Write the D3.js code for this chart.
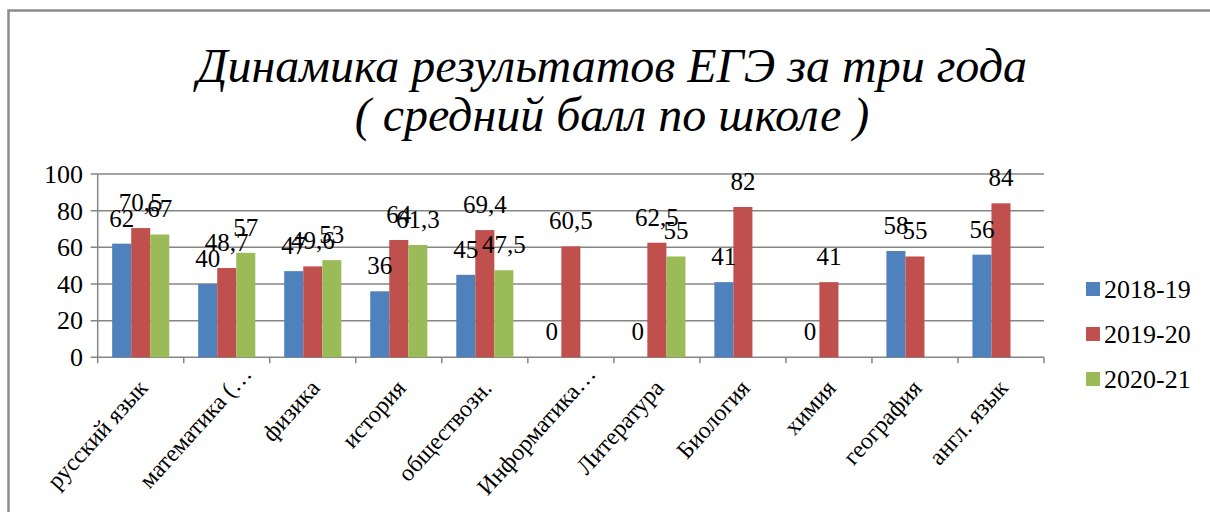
<!DOCTYPE html>
<html><head><meta charset="utf-8">
<script src="https://cdn.jsdelivr.net/npm/d3@7"></script>
<style>html,body{margin:0;padding:0;background:#fff;}svg{display:block;}</style>
</head><body>
<svg id="c" width="1210" height="515"></svg>
<script>
const categories = ["русский язык","математика (…","физика","история","обществозн.","Информатика…","Литература","Биология","химия","география","англ. язык"];
const seriesNames = ["2018-19","2019-20","2020-21"];
const s2018 = [62,40,47,36,45,0,0,41,0,58,56];
const s2019 = [70.5,48.7,49.6,64,69.4,60.5,62.5,82,41,55,84];
const s2020 = [67,57,53,61.3,47.5,null,55,null,null,null,null];
const yTicks = [0,20,40,60,80,100];
const colors = ["#4F81BD","#C0504D","#9BBB59"];
const titleLines = ["Динамика результатов ЕГЭ за три года","( средний балл по школе )"];

const series = [s2018, s2019, s2020];
const svg = d3.select("#c");
const serif = "Liberation Serif";

// outer border
svg.append("path").attr("d","M8.5,512 L8.5,10.5 L1212,10.5").attr("fill","none").attr("stroke","#8c8c8c").attr("stroke-width",2.5);

// title
svg.append("g").selectAll("text").data(titleLines).join("text")
  .attr("x",612).attr("y",(d,i)=>82+i*49)
  .attr("text-anchor","middle")
  .style("font-family",serif).style("font-style","italic").style("font-size","48px")
  .attr("fill","#000").text(d=>d);

const pLeft = 97.7, pRight = 1044, pTop = 174, pBottom = 357.3;
const x = d3.scaleBand().domain(categories).range([pLeft,pRight]).paddingInner(0).paddingOuter(0);
const xs = d3.scaleBand().domain(seriesNames).range([0,x.bandwidth()]).paddingInner(0).paddingOuter(0.76);
const y = d3.scaleLinear().domain([0,100]).range([pBottom,pTop]);

// gridlines
svg.append("g").selectAll("line").data(yTicks).join("line")
  .attr("x1",pLeft-7).attr("x2",pRight).attr("y1",d=>y(d)).attr("y2",d=>y(d))
  .attr("stroke","#868686").attr("stroke-width",1.5);
// y axis line
svg.append("line").attr("x1",pLeft).attr("x2",pLeft).attr("y1",pTop).attr("y2",pBottom).attr("stroke","#868686").attr("stroke-width",1.5);
// y labels
svg.append("g").selectAll("text").data(yTicks).join("text")
  .attr("x",83).attr("y",d=>y(d)).attr("dy","0.34em").attr("text-anchor","end")
  .style("font-family",serif).style("font-size","26px").text(d=>d);
// x ticks
const bounds = categories.map(c=>x(c)).concat([pRight]);
svg.append("g").selectAll("line").data(bounds).join("line")
  .attr("x1",d=>d).attr("x2",d=>d).attr("y1",pBottom).attr("y2",pBottom+6)
  .attr("stroke","#868686").attr("stroke-width",1.5);

// bars
const bars = [];
series.forEach((s,si)=>s.forEach((v,ci)=>{ if(v!==null) bars.push({si,ci,v}); }));
svg.append("g").selectAll("rect").data(bars).join("rect")
  .attr("x",d=>x(categories[d.ci])+xs(seriesNames[d.si]))
  .attr("width",xs.bandwidth())
  .attr("y",d=>y(d.v)).attr("height",d=>pBottom-y(d.v))
  .attr("fill",d=>colors[d.si]);

// data labels
svg.append("g").selectAll("text").data(bars).join("text")
  .attr("x",d=>x(categories[d.ci])+xs(seriesNames[d.si])+xs.bandwidth()/2)
  .attr("y",d=>y(d.v)-17)
  .attr("text-anchor","middle")
  .style("font-family",serif).style("font-size","25px")
  .text(d=>String(d.v).replace(".",","));

// category labels (truncated ones sit higher, as in the reference)
svg.append("g").selectAll("text").data(categories).join("text")
  .attr("transform",c=>{
    const cx = x(c)+x.bandwidth()/2;
    const trunc = c.endsWith("…");
    return `translate(${cx+(trunc?20:2)},${pBottom+(trunc?12:26)}) rotate(-48)`;
  })
  .attr("text-anchor","end").attr("dy","0.35em")
  .style("font-family",serif).style("font-size","24px").text(c=>c);

// legend
const lg = svg.append("g").selectAll("g").data(seriesNames).join("g")
  .attr("transform",(d,i)=>`translate(1086,${289+i*45})`);
lg.append("rect").attr("x",0).attr("y",-7).attr("width",14).attr("height",14).attr("fill",(d,i)=>colors[i]);
lg.append("text").attr("x",18).attr("y",0).attr("dy","0.35em")
  .style("font-family",serif).style("font-size","26px").text(d=>d);
</script>
</body></html>
